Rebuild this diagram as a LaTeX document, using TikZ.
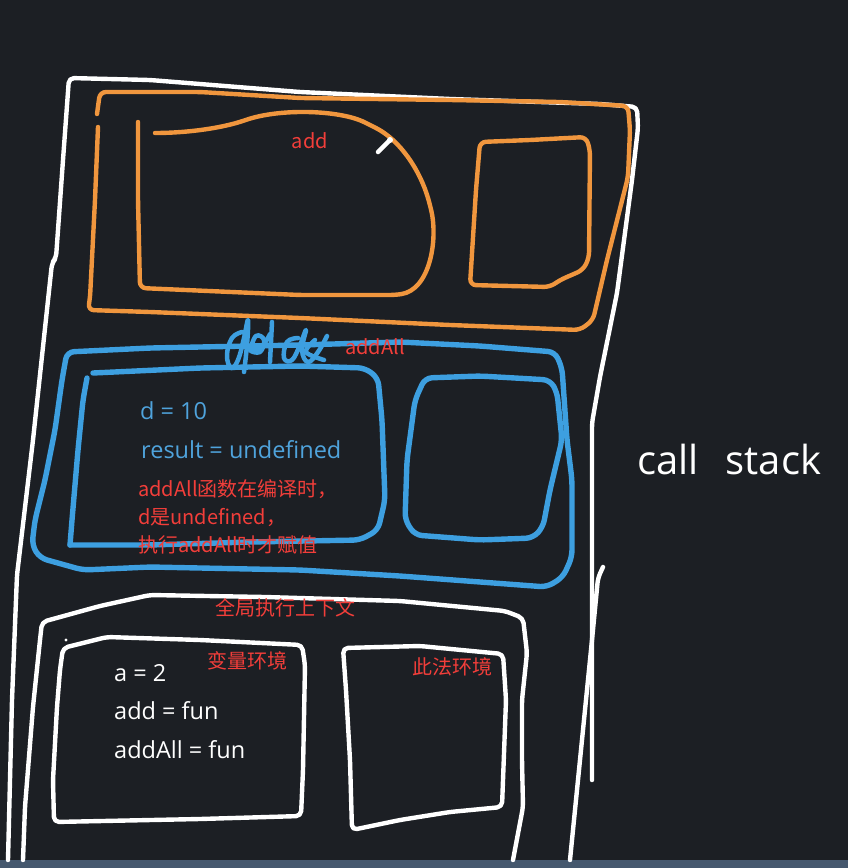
\documentclass[tikz,border=0pt]{standalone}
\usepackage{fontspec}
\setmainfont{Noto Sans CJK SC}
\newfontfamily\latinf{Open Sans}
\definecolor{bg}{HTML}{1C1F24}
\definecolor{strip}{HTML}{45586E}
\definecolor{orng}{HTML}{F0963E}
\definecolor{blu}{HTML}{3D9FE0}
\definecolor{btext}{HTML}{4FA3DC}
\definecolor{rtext}{HTML}{F23E3A}
\begin{document}
\begin{tikzpicture}[x=1pt,y=-1pt,line cap=round,line join=round,
  wline/.style={draw=white,line width=4.4pt,rounded corners=5pt},
  oline/.style={draw=orng,line width=4.4pt,rounded corners=6pt},
  bline/.style={draw=blu,line width=5.4pt,rounded corners=7pt},
  rlab/.style={text=rtext,font=\fontsize{20}{24}\selectfont,inner sep=0pt},
  blab/.style={text=btext,font=\latinf\fontsize{23.5}{27}\selectfont,inner sep=0pt,anchor=west},
  wlab/.style={text=white,font=\latinf\fontsize{23.5}{27}\selectfont,inner sep=0pt,anchor=west}]
\fill[bg] (0,0) rectangle (848,868);
\fill[strip] (0,860) rectangle (848,868);
\useasboundingbox (0,0) rectangle (848,868);

% outer white call stack frame
\draw[wline] (8,860) -- (12,700) -- (17,575) -- (33,440) -- (52,263) -- (56,258) -- (63,160) -- (69,78)
  -- (150,80) -- (300,92) -- (450,99) -- (600,104) -- (637,107) -- (638,128) -- (632,180) -- (617,293)
  -- (600,377) -- (592,423) -- (592,780);
\draw[wline] (603,567) -- (598,578) -- (592,640) -- (586,700) -- (580,760) -- (575,810) -- (570,860);

% global execution context
\draw[wline] (23,860) -- (25,807) -- (33,707) -- (40,640) -- (42,622) -- (100,606) -- (150,595)
  -- (265,597) -- (400,601) -- (505,611) -- (523,618) -- (527,653) -- (522,700) -- (522,760)
  -- (523,807) -- (513,860);
% variable environment
\draw[wline] (63,648) -- (107,637) -- (200,640) -- (302,645) -- (305,665) -- (303,770) -- (301,816)
  -- (200,819) -- (54,822) -- (53,780) -- (57,707) -- (60,670) -- cycle;
\fill[white] (66,640) circle (1.6pt);
% lexical environment
\draw[wline] (343,648) -- (420,646) -- (503,654) -- (506,700) -- (502,807) -- (450,812)
  -- (400,820) -- (352,830) -- (350,760) -- (346,690) -- cycle;

% orange: add context
\draw[oline] (97,114) -- (100,92) -- (200,92) -- (300,98) -- (450,100) -- (560,102) -- (628,106)
  -- (630,130) -- (628,177) -- (607,260) -- (593,320) -- (580,330) -- (450,325) -- (300,318)
  -- (150,312) -- (88,310) -- (90,298) -- (95,200) -- (98,127);
\draw[oline] (138,122) -- (138,200) -- (140,288) -- (300,295) -- (395,295)
  .. controls (430,290) and (438,240) .. (430,205)
  .. controls (420,170) and (400,140) .. (370,125)
  .. controls (340,110) and (280,108) .. (240,122)
  .. controls (210,130) and (180,133) .. (155,133);
\draw[oline] (480,142) -- (530,140) -- (586,137) -- (590,150) -- (589,258) -- (583,270) -- (560,280)
  -- (550,287) -- (470,285) -- (476,190) -- cycle;
% pencil cursor
\draw[white,line width=4.5pt,line cap=round] (378,152) -- (389,141);
\fill[white] (390,140) circle (3pt);

% blue: addAll context
\draw[bline] (67,352) -- (150,348) -- (300,345) -- (400,342) -- (480,346) -- (555,352) -- (562,368)
  -- (567,440) -- (572,480) -- (572,557) -- (563,577) -- (547,587) -- (400,576) -- (300,570)
  -- (150,567) -- (83,570) -- (40,558) -- (32,545) -- (35,520) -- (45,480) -- (55,430) -- (62,380) -- cycle;
\draw[bline] (93,373) -- (200,368) -- (300,366) -- (365,368) -- (378,378) -- (382,420) -- (385,500)
  -- (378,530) -- (360,540) -- (250,542) -- (150,545) -- (70,545);
\draw[bline] (70,545) -- (72,520) -- (78,450) -- (83,400) -- (87,378);
\draw[bline] (425,378) -- (480,376) -- (550,380) -- (557,392) -- (562,440) -- (550,490) -- (543,527)
  -- (533,538) -- (480,540) -- (415,535) -- (405,520) -- (407,460) -- (415,400) -- cycle;
% scribble
\draw[draw=blu,line width=4.5pt] plot[smooth,tension=0.7] coordinates {(242,332) (232,338) (227,355) (231,368) (238,360) (244,338) (248,320) (247,345) (244,372)};
\draw[draw=blu,line width=4.5pt] plot[smooth,tension=0.7] coordinates {(250,350) (256,336) (264,340) (260,352) (250,350) (262,346) (270,334)};
\draw[draw=blu,line width=4.5pt] (272,322) -- (270,362);
\draw[draw=blu,line width=4.5pt] plot[smooth,tension=0.7] coordinates {(298,338) (287,342) (284,358) (292,360) (300,345) (306,330) (302,350) (308,362) (318,352) (327,336)};
\draw[draw=blu,line width=4.5pt] plot[smooth,tension=0.6] coordinates {(315,340) (306,352) (324,360)};

% texts
\node[rlab] (tadd) at (310,141) {add};
\node[rlab] (taddall) at (375,347) {addAll};
\node[blab] (td) at (140,411) {d = 10};
\node[blab] (tres) at (141,450) {result = undefined};
\node[rlab,anchor=west] (n1) at (138,489) {addAll函数在编译时，};
\node[rlab,anchor=west] (n2) at (138,517) {d是undefined，};
\node[rlab,anchor=west] (n3) at (138,545) {执行addAll时才赋值};
\node[rlab] (tglobal) at (285,608) {全局执行上下文};
\node[rlab] (tvar) at (247,661) {变量环境};
\node[rlab] (tlex) at (452,667) {此法环境};
\node[wlab] (ta) at (114,673) {a = 2};
\node[wlab] (taddf) at (114,711) {add = fun};
\node[wlab] (taddallf) at (114,750) {addAll = fun};
\node[text=white,font=\latinf\fontsize{40}{44}\selectfont,inner sep=0pt,anchor=west] (tcs) at (637,459) {call\hspace{27pt}stack};
\end{tikzpicture}
\end{document}
